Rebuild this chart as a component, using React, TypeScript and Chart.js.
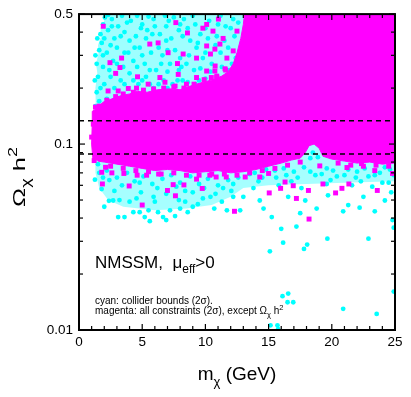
import React, { useEffect, useRef } from 'react';
import { Chart, registerables } from 'chart.js';

Chart.register(...registerables);

const FONT = '"Liberation Sans", Arial, Helvetica, sans-serif';

// axis ranges and ticks
const xRange = [0, 25];
const yRange = [0.01, 0.5];
const xTickLabels = [0, 5, 10, 15, 20, 25];
const xMinorTicks = [1, 2, 3, 4, 6, 7, 8, 9, 11, 12, 13, 14, 16, 17, 18, 19, 21, 22, 23, 24];
const yTickLabels = [0.01, 0.1, 0.5];
const yMinorTicks = [0.02, 0.03, 0.04, 0.05, 0.06, 0.07, 0.08, 0.09, 0.2, 0.3, 0.4];

// WMAP band (dashed lines)
const relicBand = [0.0885, 0.1335];

// dense regions (outline of densely populated zones)
const magentaCore: [number, number][] = [
  [1.1, 0.083], [1.0, 0.1], [1.05, 0.13], [1.05, 0.15],
  [1.4, 0.155], [1.9, 0.168], [2.6, 0.175], [3.3, 0.182], [4.0, 0.186], [4.6, 0.192],
  [5.4, 0.19], [6.2, 0.196], [7.2, 0.198], [8.0, 0.196], [8.8, 0.205], [9.8, 0.215],
  [10.6, 0.222], [11.3, 0.232], [11.8, 0.245], [12.2, 0.27], [12.5, 0.31], [12.8, 0.37],
  [13.0, 0.44], [13.1, 0.5], [25, 0.5], [25, 0.079],
  [24, 0.078], [23, 0.08], [22, 0.079], [21, 0.081], [20, 0.083], [19.3, 0.086], [19.0, 0.095],
  [18.6, 0.1], [18.2, 0.098], [17.9, 0.09], [17.5, 0.084], [16.8, 0.082], [16, 0.079],
  [15, 0.076], [14, 0.073], [13, 0.071], [12, 0.07], [11, 0.072], [10, 0.071], [9, 0.07],
  [8, 0.072], [7, 0.073], [6, 0.072], [5, 0.074], [4, 0.076], [3, 0.078], [2, 0.08], [1.5, 0.081],
];

const cyanUpperZone: [number, number][] = [
  [1.35, 0.13], [1.3, 0.2], [1.45, 0.24], [1.35, 0.27], [1.55, 0.31], [1.5, 0.34], [1.75, 0.38],
  [1.7, 0.42], [2.0, 0.46], [1.9, 0.5], [13.3, 0.5], [13.3, 0.14],
];

const cyanLowerZone: [number, number][] = [
  [1.3, 0.11], [1.3, 0.07], [1.6, 0.058], [2.3, 0.05], [3.5, 0.046], [6, 0.044],
  [8.5, 0.045], [10.5, 0.047], [12, 0.052], [13, 0.058], [15, 0.06], [18, 0.061],
  [21, 0.062], [25, 0.063], [25, 0.11],
];

// individual points: collider bounds only (cyan)
const cyanPoints: [number, number][] = [
  [1.9, 0.44], [1.7, 0.39], [1.4, 0.27], [1.5, 0.23], [1.4, 0.19], [1.6, 0.32], [1.8, 0.35], [2.05, 0.48], [2.6, 0.47], [3.4, 0.49],
  [2.3, 0.41], [2.8, 0.37], [3.1, 0.43], [3.6, 0.40], [4.1, 0.46], [4.5, 0.38], [5.0, 0.44], [5.4, 0.41], [5.9, 0.47], [6.4, 0.39],
  [6.9, 0.43], [7.3, 0.37], [7.9, 0.41], [8.3, 0.47], [8.8, 0.36], [9.2, 0.44], [9.6, 0.39], [10.3, 0.46], [10.9, 0.38], [11.6, 0.43],
  [2.2, 0.31], [2.7, 0.28], [3.0, 0.33], [3.5, 0.26], [3.9, 0.31], [4.3, 0.28], [4.8, 0.33], [5.2, 0.27], [5.7, 0.31], [6.1, 0.25],
  [6.6, 0.30], [7.2, 0.27], [7.6, 0.32], [8.1, 0.26], [8.7, 0.30], [9.1, 0.25], [9.8, 0.29], [10.5, 0.27], [11.2, 0.31], [12.1, 0.27],
  [2.0, 0.21], [2.5, 0.23], [3.3, 0.22], [4.0, 0.24], [4.7, 0.21], [5.3, 0.23], [5.9, 0.20], [6.7, 0.22], [7.4, 0.21], [8.2, 0.22],
  [8.9, 0.20], [9.5, 0.22], [10.2, 0.21], [11.0, 0.20], [11.9, 0.22], [12.5, 0.19],
  [2.3, 0.495], [4.6, 0.49], [5.5, 0.485], [6.8, 0.49], [7.5, 0.48], [9.0, 0.49], [11.2, 0.49], [12.2, 0.47],
  [2.6, 0.43], [3.8, 0.45], [4.9, 0.42], [6.0, 0.43], [7.1, 0.46], [8.0, 0.44], [8.6, 0.42], [10.0, 0.42], [11.0, 0.44], [12.0, 0.42], [12.6, 0.45],
  [2.0, 0.37], [3.3, 0.38], [4.0, 0.36], [5.3, 0.37], [5.8, 0.39], [6.9, 0.36], [8.2, 0.38], [9.4, 0.35], [10.2, 0.37], [11.5, 0.36], [12.3, 0.38],
  [1.9, 0.3], [2.5, 0.34], [3.6, 0.31], [4.4, 0.33], [5.0, 0.3], [6.3, 0.33], [7.0, 0.32], [8.0, 0.29], [9.3, 0.33], [10.0, 0.31], [10.8, 0.34], [11.8, 0.33], [12.4, 0.29],
  [1.9, 0.26], [2.4, 0.25], [3.0, 0.27], [4.6, 0.26], [5.6, 0.25], [6.5, 0.27], [7.0, 0.245], [7.9, 0.25], [8.5, 0.27], [9.6, 0.255], [10.4, 0.245], [11.3, 0.26], [11.9, 0.25],
  [1.7, 0.2], [2.8, 0.2], [3.6, 0.21], [4.3, 0.22], [5.0, 0.22], [5.6, 0.21], [6.3, 0.21], [7.0, 0.2], [7.8, 0.22], [8.6, 0.215], [9.2, 0.21], [10.0, 0.225], [10.7, 0.215], [11.5, 0.21],
  [1.3, 0.16], [1.6, 0.17], [2.2, 0.175], [1.25, 0.22], [1.3, 0.3], [1.45, 0.37],
  [1.26, 0.0643], [1.79, 0.0573], [2.0, 0.046], [2.37, 0.0495], [3.1, 0.0405], [2.7, 0.0497], [3.6, 0.0405], [4.0, 0.049],
  [4.3, 0.043], [4.55, 0.051], [4.8, 0.043], [5.2, 0.0405], [5.5, 0.044], [5.6, 0.0385], [6.0, 0.049], [6.25, 0.043],
  [6.65, 0.0405], [6.9, 0.039], [7.2, 0.044], [7.6, 0.041], [8.0, 0.045], [8.4, 0.049], [8.6, 0.043], [9.0, 0.046],
  [9.4, 0.0475], [9.8, 0.051], [10.7, 0.045], [11.3, 0.049], [11.7, 0.044], [12.05, 0.056], [12.2, 0.052],
  [13.0, 0.052], [12.75, 0.044], [14.3, 0.0497], [14.6, 0.045], [15.25, 0.0405], [16.0, 0.035], [16.55, 0.052],
  [17.2, 0.036], [17.5, 0.0425], [17.9, 0.0497], [18.8, 0.045], [19.7, 0.053], [20.9, 0.0435], [21.3, 0.047],
  [22.2, 0.0455], [22.5, 0.052], [23.4, 0.0435], [24.2, 0.0497], [24.7, 0.055], [24.8, 0.039], [24.9, 0.0355],
  [15.1, 0.0265], [16.15, 0.0295], [17.8, 0.0273], [18.05, 0.0288], [19.65, 0.031], [22.9, 0.031],
  [16.1, 0.0152], [16.55, 0.0157], [16.5, 0.0141], [16.95, 0.0141], [20.9, 0.013], [23.55, 0.0122], [24.9, 0.0161],
  [15.15, 0.0106], [15.7, 0.0106], [15.75, 0.0101],
  [1.5, 0.078], [2.2, 0.072], [3.0, 0.066], [3.8, 0.07], [4.4, 0.063], [5.1, 0.067], [5.8, 0.061], [6.6, 0.065],
  [7.3, 0.068], [8.0, 0.062], [8.8, 0.067], [9.5, 0.061], [10.2, 0.065], [11.0, 0.06], [11.8, 0.064], [12.6, 0.066],
  [13.5, 0.069], [14.5, 0.066], [15.5, 0.072], [16.4, 0.068], [17.3, 0.066], [18.3, 0.071], [19.2, 0.069], [20.1, 0.072],
  [21.0, 0.068], [22.0, 0.071], [22.9, 0.067], [23.8, 0.07], [24.6, 0.073], [18.5, 0.09], [18.9, 0.085], [18.3, 0.084],
  [2.8, 0.056], [4.9, 0.055], [6.9, 0.054], [9.0, 0.055], [10.8, 0.054], [13.8, 0.058], [15.8, 0.06], [17.6, 0.058],
  [19.6, 0.061], [21.6, 0.06], [23.2, 0.059], [24.5, 0.062],
  [13.2, 0.075], [13.9, 0.07], [14.8, 0.073], [15.6, 0.066], [16.2, 0.074], [17.0, 0.071], [17.8, 0.075], [18.7, 0.068],
  [19.6, 0.074], [20.4, 0.067], [21.3, 0.073], [21.9, 0.066], [22.6, 0.074], [23.4, 0.068], [24.2, 0.075], [24.9, 0.068],
  [14.2, 0.063], [16.8, 0.063], [19.9, 0.064], [22.3, 0.063], [24.0, 0.062],
  [2.4, 0.064], [3.4, 0.06], [4.8, 0.062], [6.2, 0.058], [7.7, 0.059], [8.4, 0.056], [9.9, 0.058], [11.4, 0.058],
  [12.2, 0.061], [3.2, 0.05], [5.9, 0.052], [7.9, 0.05], [10.4, 0.052], [1.9, 0.066], [1.6, 0.07],
];

// individual points: all constraints except relic density (magenta)
const magentaPoints: [number, number][] = [
  [1.92, 0.43], [6.26, 0.35], [5.6, 0.345], [7.66, 0.45], [8.58, 0.396], [9.8, 0.42], [10.1, 0.337], [10.75, 0.324],
  [7.05, 0.31], [8.24, 0.305], [2.45, 0.274], [3.37, 0.29], [3.24, 0.258], [4.63, 0.23], [5.47, 0.21], [6.4, 0.228],
  [7.79, 0.271], [9.3, 0.228], [9.3, 0.29], [10.47, 0.228], [10.75, 0.247], [2.3, 0.193], [3.1, 0.193], [3.9, 0.199],
  [4.55, 0.2], [6.8, 0.215], [7.6, 0.205], [8.5, 0.21], [7.85, 0.237], [1.0, 0.109], [1.13, 0.128], [2.9, 0.24],
  [10.1, 0.44], [10.6, 0.405], [10.4, 0.305], [10.77, 0.263], [10.1, 0.247], [10.9, 0.228], [11.55, 0.254], [11.7, 0.29],
  [12.2, 0.317], [12.1, 0.228], [11.15, 0.345], [11.4, 0.37], [11.03, 0.47], [12.5, 0.405], [12.75, 0.206], [10.25, 0.2],
  [1.6, 0.16], [2.2, 0.172], [2.9, 0.18], [3.5, 0.186], [4.3, 0.19], [5.1, 0.195], [5.9, 0.198], [6.7, 0.2],
  [7.5, 0.203], [8.3, 0.2], [9.1, 0.21], [9.9, 0.222], [10.9, 0.232], [11.6, 0.25], [1.3, 0.158],
  [2.5, 0.076], [3.5, 0.074], [4.5, 0.072], [5.5, 0.071], [6.5, 0.069], [7.5, 0.07], [8.5, 0.068], [9.5, 0.068],
  [10.5, 0.069], [11.5, 0.069], [12.5, 0.068], [13.5, 0.07], [14.5, 0.072], [15.5, 0.074], [16.5, 0.077], [17.5, 0.08],
  [20.5, 0.079], [21.5, 0.077], [22.5, 0.076], [23.5, 0.077], [24.5, 0.076],
  [1.2, 0.0815], [1.8, 0.0705], [1.85, 0.061], [2.1, 0.075], [2.6, 0.07], [3.55, 0.0695], [3.97, 0.0595], [4.6, 0.068],
  [5.0, 0.047], [5.35, 0.068], [6.3, 0.069], [7.0, 0.0563], [7.45, 0.0605], [7.63, 0.0527], [8.3, 0.0603], [9.3, 0.0648],
  [9.75, 0.0577], [10.35, 0.068], [10.85, 0.0665], [11.65, 0.0665], [12.3, 0.0435],
  [15.05, 0.0546], [15.95, 0.0578], [17.2, 0.051], [18.2, 0.0395], [18.15, 0.0563], [19.3, 0.061], [20.3, 0.0546],
  [20.8, 0.0578], [21.35, 0.061], [23.6, 0.0563], [22.35, 0.0785], [23.4, 0.072], [24.8, 0.0695], [16.95, 0.0597],
  [16.3, 0.0625], [15.0, 0.0695], [14.3, 0.0665], [13.15, 0.0665], [19.05, 0.0763], [21.2, 0.0748],
];

const toXY = (arr: [number, number][]) => arr.map(([x, y]) => ({ x, y }));

type Run = { t: string; size: number; dy: number };

function drawRuns(ctx: CanvasRenderingContext2D, runs: Run[], x: number, y: number) {
  let cx = x;
  for (const r of runs) {
    ctx.font = `${r.size}px ${FONT}`;
    ctx.fillText(r.t, cx, y + r.dy);
    cx += ctx.measureText(r.t).width;
  }
  return cx - x;
}

function runsWidth(ctx: CanvasRenderingContext2D, runs: Run[]) {
  let w = 0;
  for (const r of runs) {
    ctx.font = `${r.size}px ${FONT}`;
    w += ctx.measureText(r.t).width;
  }
  return w;
}

const framePlugin = {
  id: 'frameAndText',
  afterDraw(chart: any) {
    const { ctx, chartArea: a, scales } = chart;
    const xs = scales.x;
    const ys = scales.y;
    ctx.save();
    ctx.strokeStyle = '#000';
    ctx.lineWidth = 1.2;
    const seg = (x1: number, y1: number, x2: number, y2: number) => {
      ctx.beginPath();
      ctx.moveTo(x1, y1);
      ctx.lineTo(x2, y2);
      ctx.stroke();
    };
    for (const v of xMinorTicks) {
      const p = xs.getPixelForValue(v);
      seg(p, a.bottom, p, a.bottom - 4);
      seg(p, a.top, p, a.top + 4);
    }
    for (const v of xTickLabels) {
      const p = xs.getPixelForValue(v);
      seg(p, a.bottom, p, a.bottom - 6);
      seg(p, a.top, p, a.top + 6);
    }
    for (const v of yMinorTicks) {
      const p = ys.getPixelForValue(v);
      seg(a.left, p, a.left + 4, p);
      seg(a.right, p, a.right - 4, p);
    }
    for (const v of yTickLabels) {
      const p = ys.getPixelForValue(v);
      seg(a.left, p, a.left + 6, p);
      seg(a.right, p, a.right - 6, p);
    }
    ctx.lineWidth = 2;
    ctx.strokeRect(a.left, a.top, a.right - a.left, a.bottom - a.top);

    ctx.fillStyle = '#000';
    ctx.textBaseline = 'alphabetic';
    ctx.textAlign = 'left';
    // annotation
    drawRuns(ctx, [
      { t: 'NMSSM,  \u03bc', size: 17, dy: 0 },
      { t: 'eff', size: 12, dy: 5 },
      { t: '>0', size: 17, dy: 0 },
    ], a.left + 16, a.top + 254);
    drawRuns(ctx, [{ t: 'cyan: collider bounds (2\u03c3).', size: 10, dy: 0 }], a.left + 16, a.top + 290);
    drawRuns(ctx, [
      { t: 'magenta: all constraints (2\u03c3), except \u03a9', size: 10, dy: 0 },
      { t: '\u03c7', size: 7.5, dy: 3 },
      { t: ' h', size: 10, dy: 0 },
      { t: '2', size: 7.5, dy: -4 },
    ], a.left + 16, a.top + 300);

    // x title
    const xt: Run[] = [
      { t: 'm', size: 19, dy: 0 },
      { t: '\u03c7', size: 13, dy: 6 },
      { t: ' (GeV)', size: 19, dy: 0 },
    ];
    const xw = runsWidth(ctx, xt);
    drawRuns(ctx, xt, (a.left + a.right) / 2 - xw / 2, 380);

    // y title
    const yt: Run[] = [
      { t: '\u03a9', size: 17, dy: 0 },
      { t: '\u03c7', size: 12, dy: 5 },
      { t: ' h', size: 17, dy: 0 },
      { t: '2', size: 12, dy: -8 },
    ];
    ctx.save();
    ctx.translate(25, 177);
    ctx.rotate(-Math.PI / 2);
    ctx.scale(1.5, 1);
    const yw = runsWidth(ctx, yt);
    drawRuns(ctx, yt, -yw / 2, 0);
    ctx.restore();

    ctx.restore();
  },
};

export default function App() {
  const ref = useRef<HTMLCanvasElement>(null);
  useEffect(() => {
    const chart = new Chart(ref.current as HTMLCanvasElement, {
      type: 'scatter',
      data: {
        datasets: [
          ...relicBand.map((v) => ({
            type: 'line' as const,
            data: [{ x: xRange[0], y: v }, { x: xRange[1], y: v }],
            borderColor: '#000',
            borderWidth: 1.5,
            borderDash: [5, 4],
            pointRadius: 0,
            fill: false,
            order: 0,
          })),
          {
            type: 'scatter' as const,
            data: toXY(magentaPoints),
            pointStyle: 'rect',
            pointRadius: 3.5,
            backgroundColor: '#ff00ff',
            borderWidth: 0,
            order: 1,
          },
          {
            type: 'line' as const,
            data: toXY(magentaCore),
            fill: 'shape',
            backgroundColor: '#ff00ff',
            borderColor: '#ff00ff',
            borderWidth: 1,
            pointRadius: 0,
            tension: 0,
            order: 2,
          },
          {
            type: 'scatter' as const,
            data: toXY(cyanPoints),
            pointStyle: 'circle',
            pointRadius: 2.4,
            backgroundColor: '#00ffff',
            borderWidth: 0,
            order: 3,
          },
          {
            type: 'line' as const,
            data: toXY(cyanUpperZone),
            fill: 'shape',
            backgroundColor: 'rgba(0,255,255,0.38)',
            borderWidth: 0,
            pointRadius: 0,
            tension: 0,
            order: 4,
          },
          {
            type: 'line' as const,
            data: toXY(cyanLowerZone),
            fill: 'shape',
            backgroundColor: 'rgba(0,255,255,0.35)',
            borderWidth: 0,
            pointRadius: 0,
            tension: 0,
            order: 5,
          },
        ] as any,
      },
      options: {
        responsive: false,
        animation: false,
        devicePixelRatio: 1,
        layout: { padding: { top: 13, right: 16, left: 0, bottom: 0 } },
        plugins: { legend: { display: false }, tooltip: { enabled: false } },
        scales: {
          x: {
            type: 'linear',
            min: xRange[0],
            max: xRange[1],
            grid: { display: false, drawTicks: false },
            border: { display: false },
            afterBuildTicks: (s: any) => {
              s.ticks = xTickLabels.map((v) => ({ value: v }));
            },
            afterFit: (s: any) => {
              s.height = 67;
            },
            ticks: {
              color: '#000',
              font: { family: FONT, size: 13.5 },
              padding: 4,
              maxRotation: 0,
              autoSkip: false,
              callback: (v: any) => String(v),
            },
          },
          y: {
            type: 'logarithmic',
            min: yRange[0],
            max: yRange[1],
            grid: { display: false, drawTicks: false },
            border: { display: false },
            afterBuildTicks: (s: any) => {
              s.ticks = yTickLabels.map((v) => ({ value: v }));
            },
            afterFit: (s: any) => {
              s.width = 79;
            },
            ticks: {
              color: '#000',
              font: { family: FONT, size: 13.5 },
              padding: 6,
              autoSkip: false,
              callback: (v: any) => String(v),
            },
          },
        },
      } as any,
      plugins: [framePlugin],
    });
    return () => chart.destroy();
  }, []);
  return (
    <div style={{ position: 'fixed', left: 0, top: 0, width: 411, height: 397, background: '#fff' }}>
      <canvas ref={ref} width={411} height={397} style={{ display: 'block' }} />
    </div>
  );
}
